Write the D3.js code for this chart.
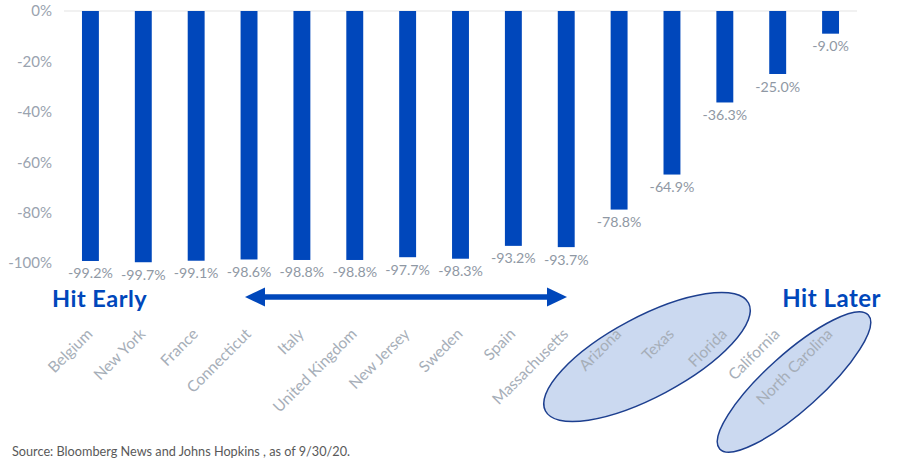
<!DOCTYPE html>
<html>
<head>
<meta charset="utf-8">
<script src="https://cdn.jsdelivr.net/npm/d3@7"></script>
<style>
  body { margin: 0; background: #fff; }
  svg { display: block; font-family: Lato, "Open Sans", sans-serif; }
</style>
</head>
<body>
<script>
// data
const places = ["Belgium", "New York", "France", "Connecticut", "Italy", "United Kingdom",
    "New Jersey", "Sweden", "Spain", "Massachusetts", "Arizona", "Texas", "Florida",
    "California", "North Carolina"];
const changes = [-99.2, -99.7, -99.1, -98.6, -98.8, -98.8, -97.7, -98.3, -93.2, -93.7,
    -78.8, -64.9, -36.3, -25.0, -9.0];
const yTicks = [0, -20, -40, -60, -80, -100];

const width = 907;
const height = 470;
const blue = "#0047bb";

// plain hyphen instead of d3's unicode minus
const pct = v => (v < 0 ? "-" : "") + Math.abs(v).toFixed(1) + "%";

const svg = d3.select("body").append("svg")
    .attr("width", width)
    .attr("height", height);

// scales
const x = d3.scaleBand()
    .domain(places)
    .range([64, 857])
    .paddingInner(0.68)
    .paddingOuter(0.34);

const y = d3.scaleLinear()
    .domain([-100, 0])
    .range([263, 11]);

// y axis labels
const yAxis = svg.append("g")
    .attr("transform", "translate(52,0)")
    .call(d3.axisLeft(y).tickValues(yTicks).tickSize(0).tickPadding(0).tickFormat(d => d + "%"));
yAxis.select(".domain").remove();
yAxis.selectAll("text")
    .attr("font-size", 15)
    .attr("font-family", "Lato, sans-serif")
    .attr("fill", "#9aa3af");

// zero line
svg.append("line")
    .attr("x1", 64).attr("x2", 857)
    .attr("y1", y(0)).attr("y2", y(0))
    .attr("stroke", "#e3e3e3")
    .attr("stroke-width", 1.2);

// ellipses behind labels
const groups = [
    { cx: 647, cy: 357, rx: 115, ry: 40, angle: -28 },
    { cx: 794, cy: 382, rx: 100, ry: 28, angle: -42 }
];
svg.append("g").selectAll("ellipse")
    .data(groups)
    .join("ellipse")
    .attr("transform", d => `translate(${d.cx},${d.cy}) rotate(${d.angle})`)
    .attr("rx", d => d.rx)
    .attr("ry", d => d.ry)
    .attr("fill", "#cbd9f0")
    .attr("stroke", "#1d3f8f")
    .attr("stroke-width", 1.5);

// bars
svg.append("g").selectAll("rect")
    .data(places)
    .join("rect")
    .attr("x", d => x(d))
    .attr("y", y(0))
    .attr("width", x.bandwidth())
    .attr("height", (d, i) => y(changes[i]) - y(0))
    .attr("fill", blue);

// value labels under each bar
svg.append("g").selectAll("text")
    .data(places)
    .join("text")
    .attr("x", d => x(d) + x.bandwidth() / 2)
    .attr("y", (d, i) => y(changes[i]) + 17.5)
    .attr("text-anchor", "middle")
    .attr("font-size", 14.2)
    .attr("fill", "#8f98a4")
    .text((d, i) => pct(changes[i]));

// category labels, rotated
svg.append("g").selectAll("text")
    .data(places)
    .join("text")
    .attr("transform", d => `translate(${x(d) + x.bandwidth() / 2 + 3},${335}) rotate(-45)`)
    .attr("text-anchor", "end")
    .attr("font-size", 15.5)
    .attr("fill", "#a6aeb8")
    .text(d => d);

// double arrow
const arrowY = 297;
svg.append("line")
    .attr("x1", 262).attr("x2", 550)
    .attr("y1", arrowY).attr("y2", arrowY)
    .attr("stroke", blue)
    .attr("stroke-width", 5.5);
svg.append("path")
    .attr("d", `M245,${arrowY} L265,${arrowY - 9.5} L265,${arrowY + 9.5} Z`)
    .attr("fill", blue);
svg.append("path")
    .attr("d", `M567,${arrowY} L547,${arrowY - 9.5} L547,${arrowY + 9.5} Z`)
    .attr("fill", blue);

// annotations
svg.append("text")
    .attr("x", 52).attr("y", 306.5)
    .attr("font-size", 23.5)
    .attr("letter-spacing", 0.5)
    .attr("font-weight", "bold")
    .attr("fill", blue)
    .text("Hit Early");

svg.append("text")
    .attr("x", 881).attr("y", 306.5)
    .attr("text-anchor", "end")
    .attr("font-size", 24)
    .attr("letter-spacing", 0.5)
    .attr("font-weight", "bold")
    .attr("fill", blue)
    .text("Hit Later");

svg.append("text")
    .attr("x", 12).attr("y", 456)
    .attr("font-size", 12.7)
    .attr("fill", "#595959")
    .text("Source: Bloomberg News and Johns Hopkins , as of 9/30/20.");
</script>
</body>
</html>
